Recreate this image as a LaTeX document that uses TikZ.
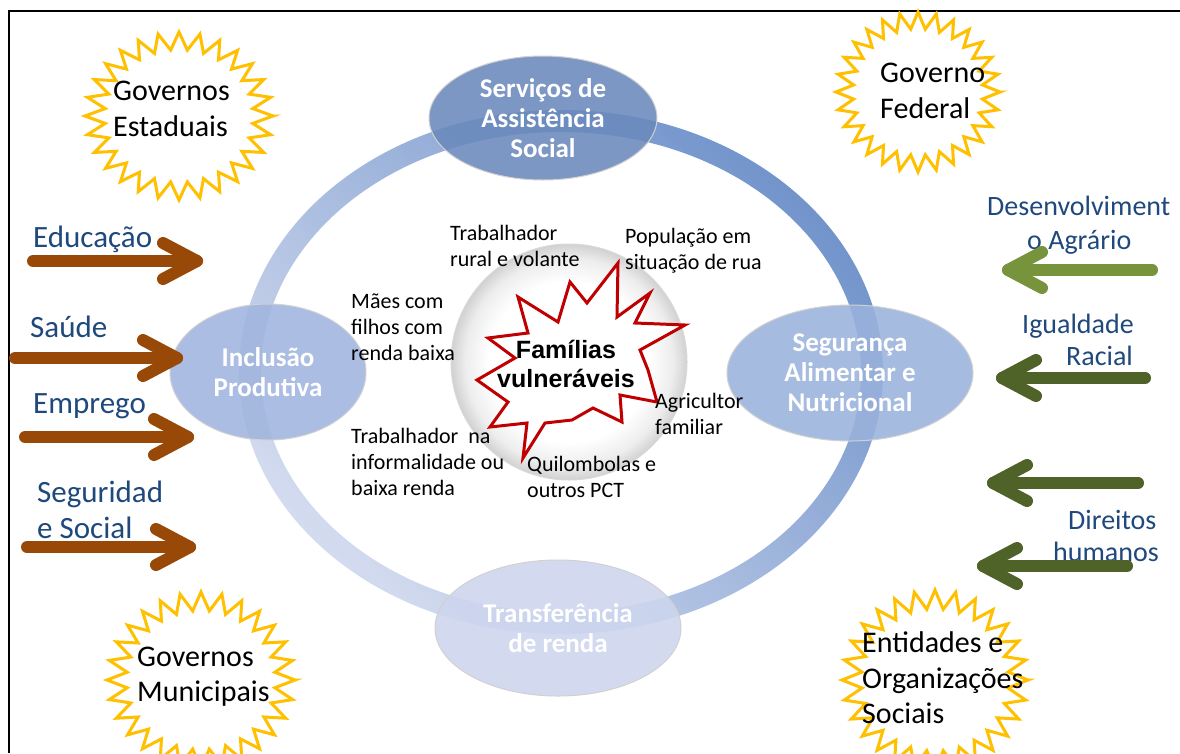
\documentclass[tikz,border=0pt]{standalone}
\usepackage{fontspec}
\setmainfont{Carlito}
\newfontfamily\arialfont{Liberation Sans}
\usetikzlibrary{shapes.geometric}

\definecolor{txtblue}{HTML}{1F497D}
\definecolor{brownarr}{HTML}{984807}
\definecolor{greenlt}{HTML}{77933C}
\definecolor{greendk}{HTML}{4F6228}
\definecolor{sunyellow}{HTML}{FFC000}
\definecolor{starred}{HTML}{C00000}
\definecolor{ringdark}{HTML}{6389C6}
\definecolor{ringlight}{HTML}{CFD8EE}
\definecolor{topfill}{HTML}{6A89BC}
\definecolor{leftfill}{HTML}{A0B5DE}
\definecolor{rightfill}{HTML}{9AB2DC}
\definecolor{botfill}{HTML}{CDD6EE}

\pgfdeclareradialshading{hubshade}{\pgfpoint{0bp}{0bp}}{color(0bp)=(white); color(17bp)=(white); color(22bp)=(black!7); color(25bp)=(black!18); color(50bp)=(black!18)}

% zig-zag sun outline: centre x, centre y, x radius, y radius
\newcommand\sunburst[4]{%
  \draw[sunline] plot[samples=57, domain=0:56, variable=\k]
    ({#1+(1-0.21*mod(\k,2))*#3*cos(\k*6.428571)}, {#2+(1-0.21*mod(\k,2))*#4*sin(\k*6.428571)}) -- cycle;}

\begin{document}
\begin{tikzpicture}[x=1pt,y=-1pt,
  sideblue/.style={anchor=base west, inner sep=0, text=txtblue, font=\fontsize{31}{37}\selectfont},
  sideblueR/.style={sideblue, font=\fontsize{28}{34}\selectfont},
  sunlbl/.style={anchor=base west, inner sep=0, font=\fontsize{30}{36}\selectfont},
  grp/.style={anchor=base west, inner sep=0, font=\fontsize{22}{26}\selectfont},
  bubble/.style={ellipse, inner sep=0, text=white, align=center, fill opacity=0.88, text opacity=1,
    draw=black!18, line width=1, font=\bfseries\fontsize{27}{30}\selectfont},
  sunline/.style={draw=sunyellow, line width=3, fill=white, line join=miter},
  brownarrow/.style={draw=brownarr, line width=12, line cap=round, line join=round},
  ltgreenarrow/.style={draw=greenlt, line width=12, line cap=round, line join=round},
  dkgreenarrow/.style={draw=greendk, line width=12, line cap=round, line join=round}]

\useasboundingbox (0,0) rectangle (1180,753);
\fill[white] (0,0) rectangle (1180,753);

% frame lines
\draw[line width=2.5] (9,753) -- (9,11) -- (1180,11);

% suns
\sunburst{179}{116}{94}{84}
\sunburst{918}{92}{82}{80}
\sunburst{201}{680}{94}{88}
\sunburst{935}{680}{93}{90}

% cycle ring
\shade[even odd rule, top color=ringdark, bottom color=ringlight, shading angle=-45, opacity=0.9]
  (561,372) ellipse [x radius=322, y radius=262]
  (561,372) ellipse [x radius=300, y radius=240];

% four service bubbles
\node[bubble, fill=topfill, minimum width=228pt, minimum height=124pt] (sas) at (543,118)
  {Serviços de\\Assistência\\Social};
\node[bubble, fill=leftfill, minimum width=196pt, minimum height=136pt] (inc) at (268,372)
  {Inclusão\\Produtiva};
\node[bubble, fill=rightfill, minimum width=246pt, minimum height=136pt] (san) at (850,373)
  {Segurança\\Alimentar e\\Nutricional};
\node[bubble, fill=botfill, minimum width=246pt, minimum height=136pt] (tra) at (558,628)
  {Transferência\\de renda};

% central hub
\node[circle, minimum size=236pt, inner sep=0, shading=hubshade, draw=black!15, line width=1] (hub) at (569,362) {};

% red burst
\draw[starred, line width=3, fill=white, line join=miter] plot coordinates {
  (618,263) (617,317) (650,293) (635,323) (685,325) (640,350) (648,370) (657,402)
  (620,395) (622,422) (593,408) (572,420) (545,423) (523,458) (527,423) (490,427)
  (508,402) (477,380) (515,358) (488,338) (528,333) (518,297) (558,322) (570,282)
  (587,303)} -- cycle;
\node[align=center, inner sep=0, font=\arialfont\bfseries\fontsize{25}{29}\selectfont] (fam) at (566,364)
  {Famílias\\vulneráveis};

% groups around the hub
\node[grp] (g1a) at (450,240) {Trabalhador};
\node[grp] (g1b) at (450,266) {rural e volante};
\node[grp] (g2a) at (625,243) {População em};
\node[grp] (g2b) at (625,269) {situação de rua};
\node[grp] (g3a) at (351,308) {Mães com};
\node[grp] (g3b) at (351,334) {filhos com};
\node[grp] (g3c) at (351,360) {renda baixa};
\node[grp] (g4a) at (655,408) {Agricultor};
\node[grp] (g4b) at (655,434) {familiar};
\node[grp] (g5a) at (351,443) {Trabalhador\ \ na};
\node[grp] (g5b) at (351,469) {informalidade ou};
\node[grp] (g5c) at (351,495) {baixa renda};
\node[grp] (g6a) at (527,471) {Quilombolas e};
\node[grp] (g6b) at (527,497) {outros PCT};

% government spheres
\node[sunlbl] (s1a) at (113,100) {Governos};
\node[sunlbl] (s1b) at (113,136) {Estaduais};
\node[sunlbl] (s2a) at (880,82) {Governo};
\node[sunlbl] (s2b) at (880,118) {Federal};
\node[sunlbl] (s3a) at (137,666) {Governos};
\node[sunlbl] (s3b) at (137,701) {Municipais};
\node[sunlbl] (s4a) at (862,652) {Entidades e};
\node[sunlbl] (s4b) at (862,688) {Organizações};
\node[sunlbl] (s4c) at (862,723) {Sociais};

% left-hand policies
\node[sideblue] (edu) at (33,247) {Educação};
\node[sideblue] (sau) at (30,337) {Saúde};
\node[sideblue] (emp) at (33,413) {Emprego};
\node[sideblue] (seg1) at (37,502) {Seguridad};
\node[sideblue] (seg2) at (37,538) {e Social};

\coordinate (eduS) at (33,261);  \coordinate (eduT) at (197,261);
\coordinate (sauS) at (15,358);  \coordinate (sauT) at (177,358);
\coordinate (empS) at (25,437);  \coordinate (empT) at (188,437);
\coordinate (segS) at (27,547);  \coordinate (segT) at (190,547);
\foreach \s/\t in {eduS/eduT, sauS/sauT, empS/empT, segS/segT}{
  \draw[brownarrow] (\s) -- (\t);
  \draw[brownarrow] (\t) ++(-34,-18) -- (\t) -- ++(-34,18);
}

% right-hand policies
\node[sideblueR] (dev1) at (987,215) {Desenvolviment};
\node[sideblueR] (dev2) at (1027,249) {o Agrário};
\node[sideblueR] (igu1) at (1022,333) {Igualdade};
\node[sideblueR] (igu2) at (1066,365) {Racial};
\node[sideblueR] (dir1) at (1068,529) {Direitos};
\node[sideblueR] (dir2) at (1053,561) {humanos};

\coordinate (devS) at (1152,270); \coordinate (devT) at (1008,270);
\coordinate (iguS) at (1145,378); \coordinate (iguT) at (1002,378);
\coordinate (midS) at (1138,483); \coordinate (midT) at (993,483);
\coordinate (dirS) at (1127,566); \coordinate (dirT) at (983,566);
\draw[ltgreenarrow] (devS) -- (devT);
\draw[ltgreenarrow] (devT) ++(34,-18) -- (devT) -- ++(34,18);
\foreach \s/\t in {iguS/iguT, midS/midT, dirS/dirT}{
  \draw[dkgreenarrow] (\s) -- (\t);
  \draw[dkgreenarrow] (\t) ++(34,-18) -- (\t) -- ++(34,18);
}
\end{tikzpicture}
\end{document}
